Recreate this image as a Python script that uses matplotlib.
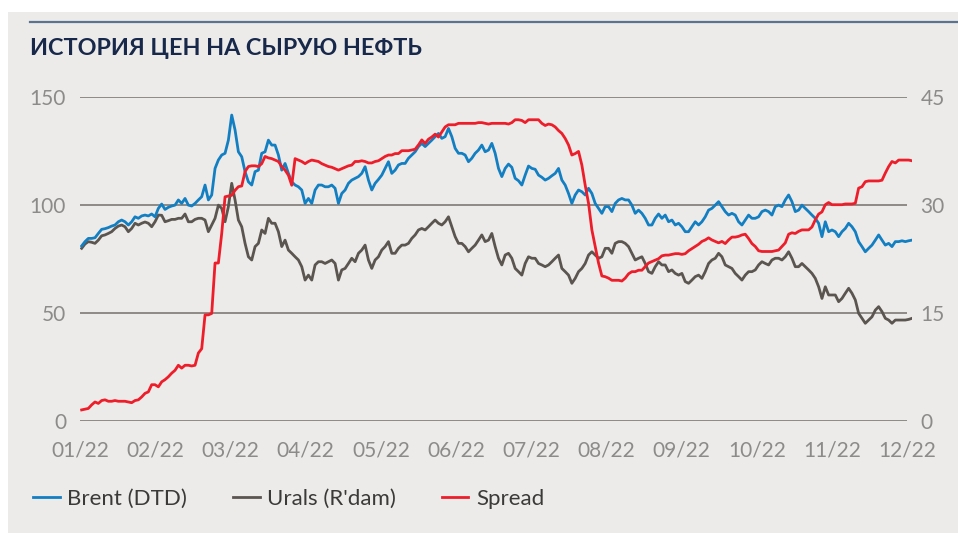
import numpy as np
import matplotlib
matplotlib.use('Agg')
import matplotlib.pyplot as plt
from matplotlib.patches import Rectangle
from matplotlib.lines import Line2D

## data (~3.4 px step)
title = 'ИСТОРИЯ ЦЕН НА СЫРУЮ НЕФТЬ'
month_labels = ['01/22', '02/22', '03/22', '04/22', '05/22', '06/22',
                '07/22', '08/22', '09/22', '10/22', '11/22', '12/22']
left_ticks = [0, 50, 100, 150]
right_ticks = [0, 15, 30, 45]
series_names = ['Brent (DTD)', "Urals (R'dam)", 'Spread']

brent = [
    80.9, 82.9, 84.4, 84.4, 84.7, 86.7, 88.6, 88.9, 89.4, 90.1,
    90.6, 92.1, 92.9, 92.1, 90.6, 92.1, 94.4, 93.7, 94.8, 95.2,
    94.8, 95.7, 94.4, 98.3, 100.3, 97.8, 98.8, 99.4, 99.8, 102.2,
    100.6, 102.9, 99.8, 99.4, 100.6, 102.2, 103.7, 109.1, 102.2, 104.5,
    116.8, 120.7, 123.0, 123.8, 129.9, 141.5, 134.6, 124.5, 122.2, 115.3,
    110.6, 109.1, 115.3, 116.0, 123.8, 124.5, 129.9, 127.6, 127.6, 123.0,
    116.0, 119.1, 114.5, 110.6, 109.1, 108.3, 106.8, 100.6, 102.9, 100.6,
    106.8, 109.1, 109.1, 108.3, 108.3, 109.1, 107.6, 100.6, 105.2, 106.8,
    109.9, 111.4,
    112.2, 113.0, 114.5, 117.6, 111.4, 106.8, 109.9, 111.7, 113.7, 116.8,
    119.9, 114.5, 116.0, 118.4, 119.1, 119.1, 121.5, 123.0, 124.5, 126.9,
    128.4, 126.9, 128.4, 129.9, 131.5, 133.0, 130.7, 131.5, 135.3, 131.5,
    126.1, 123.8, 123.8, 123.0, 119.9, 121.5, 123.8, 125.3, 127.6, 124.5,
    125.3, 128.4,
    123.8, 116.8, 113.0, 116.8, 118.8, 117.3, 112.2, 111.1, 109.1, 113.7,
    117.9, 116.8, 116.4, 113.7, 112.7, 111.4, 112.2, 113.4, 114.5, 116.8,
    111.4, 109.1, 105.2, 100.6, 104.5, 106.8, 106.0, 104.5, 107.6, 105.2,
    100.6, 98.3, 96.0, 99.1, 99.1, 96.8, 100.6, 102.2, 102.9, 102.2,
    102.2, 99.8,
    96.0, 97.5, 96.0, 93.7, 90.6, 90.6, 93.7, 95.7, 93.7, 95.2,
    92.1, 92.9, 90.6, 91.4, 89.8, 87.5, 87.5, 89.8, 92.1, 90.6,
    92.1, 94.4, 97.5, 98.3, 99.8, 101.4, 99.1, 96.8, 95.2, 96.0,
    95.2, 92.1, 90.6, 92.9, 95.2, 93.7, 93.7, 94.4, 96.8, 97.5,
    96.8, 95.2,
    99.1, 99.8, 99.1, 102.2, 104.5, 101.4, 96.8, 97.5, 99.8, 98.3,
    96.8, 95.2, 93.7, 91.4, 85.2, 92.1, 87.5, 88.3, 87.5, 85.2,
    87.5, 89.0, 91.4, 89.8, 87.5, 82.9, 80.6, 78.2, 79.8, 81.3,
    83.6, 86.0, 83.6, 81.3, 82.1, 80.6, 82.9, 82.9, 83.3, 82.9,
    83.3, 83.6,
]

urals = [
    79.8, 81.8, 82.9, 82.6, 82.1, 83.6, 85.6, 86.0, 86.7, 87.5,
    89.0, 90.1, 90.6, 89.8, 87.5, 89.0, 91.4, 90.6, 91.4, 92.0,
    91.4, 89.8, 92.1, 95.2, 95.1, 92.1, 92.6, 93.2, 93.2, 93.7,
    93.7, 95.7, 92.1, 92.1, 93.2, 93.7, 93.7, 92.9, 87.5, 90.6,
    93.7, 99.8, 98.3, 92.1, 99.1, 109.9, 102.2, 92.9, 89.8, 82.1,
    75.9, 74.4, 80.6, 82.1, 88.3, 86.7, 93.7, 91.4, 91.4, 87.5,
    80.6, 83.6, 79.0, 77.5, 75.9, 74.4, 71.3, 65.1, 67.4, 65.1,
    72.1, 73.6, 73.6, 72.8, 73.6, 74.4, 72.8, 65.1, 69.8, 70.5,
    72.8, 75.2,
    73.6, 77.5, 79.0, 81.3, 74.4, 70.5, 74.4, 75.9, 79.0, 80.6,
    82.9, 77.5, 77.5, 79.8, 81.3, 81.3, 82.1, 84.4, 86.0, 88.3,
    89.0, 88.3, 89.8, 91.4, 92.9, 91.4, 90.6, 92.1, 94.4, 89.8,
    85.2, 82.1, 82.1, 80.6, 78.2, 79.8, 81.3, 83.6, 86.0, 82.9,
    83.6, 86.7,
    80.6, 75.2, 72.1, 76.7, 77.5, 75.2, 70.5, 69.0, 67.4, 72.8,
    75.9, 75.2, 75.2, 72.8, 72.1, 71.3, 72.1, 73.6, 75.2, 76.7,
    70.5, 69.0, 67.4, 63.6, 65.9, 69.0, 70.5, 72.8, 76.7, 78.2,
    76.7, 75.2, 75.9, 79.8, 79.8, 77.5, 82.1, 82.9, 82.9, 82.1,
    80.6, 77.5,
    74.4, 75.2, 75.9, 72.8, 69.0, 68.2, 71.3, 73.6, 72.1, 72.1,
    69.0, 69.8, 68.2, 67.4, 68.2, 64.4, 63.6, 65.1, 66.7, 67.4,
    65.9, 69.0, 72.8, 74.4, 75.2, 77.5, 75.9, 72.1, 71.3, 70.5,
    68.2, 66.7, 65.1, 67.4, 69.0, 69.0, 69.8, 72.1, 73.6, 72.8,
    72.1, 74.4,
    75.2, 75.2, 74.4, 75.9, 78.2, 75.2, 71.3, 71.3, 72.8, 71.3,
    69.8, 68.2, 65.9, 62.0, 56.6, 62.0, 58.2, 58.2, 58.2, 55.1,
    56.6, 59.0, 61.3, 59.0, 55.9, 49.7, 47.4, 45.1, 46.6, 48.1,
    51.2, 52.8, 50.5, 47.4, 46.6, 45.1, 46.6, 46.6, 46.6, 46.6,
    46.9, 47.4,
]

spread = [
    1.5, 1.6, 1.7, 2.2, 2.6, 2.4, 2.8, 2.9, 2.7, 2.7,
    2.8, 2.7, 2.7, 2.7, 2.6, 2.5, 2.8, 2.9, 3.3, 3.8,
    4.0, 5.0, 5.0, 4.7, 5.4, 5.7, 6.1, 6.6, 7.0, 7.7,
    7.3, 7.7, 7.7, 7.6, 7.7, 9.4, 10.0, 14.7, 14.7, 14.9,
    21.9, 21.9, 26.0, 31.1, 31.2, 31.3, 32.0, 32.5, 32.6, 34.6,
    35.3, 35.4, 35.4, 35.3, 35.7, 36.7, 36.5, 36.4, 36.2, 36.0,
    35.3, 34.8, 34.1, 32.7, 36.4, 36.2, 36.0, 35.7, 36.0, 36.2,
    36.1, 36.0, 35.7, 35.5, 35.3, 35.2, 35.0, 34.8, 35.0, 35.2,
    35.4, 35.5,
    36.0, 36.0, 36.1, 36.0, 35.8, 35.8, 36.0, 36.1, 36.4, 36.7,
    36.9, 36.9, 37.1, 37.1, 37.5, 37.5, 37.5, 37.6, 37.7, 38.3,
    39.0, 38.5, 39.1, 39.4, 39.8, 39.4, 40.1, 40.8, 41.1, 41.1,
    41.1, 41.3, 41.3, 41.3, 41.3, 41.3, 41.3, 41.4, 41.4, 41.3,
    41.2, 41.3,
    41.3, 41.3, 41.3, 41.3, 41.2, 41.4, 41.8, 41.8, 41.7, 41.4,
    41.8, 41.8, 41.8, 41.8, 41.3, 41.0, 41.2, 41.1, 40.8, 40.3,
    39.9, 39.2, 38.3, 36.9, 37.1, 37.4, 35.5, 32.7, 30.2, 26.5,
    24.2, 21.9, 20.1, 20.0, 19.8, 19.5, 19.5, 19.5, 19.4, 19.8,
    20.4, 20.7,
    20.7, 20.9, 20.9, 21.4, 21.9, 22.1, 22.3, 22.5, 22.9, 23.0,
    23.0, 23.1, 23.2, 23.2, 23.1, 23.2, 23.6, 23.9, 24.2, 24.5,
    24.9, 25.1, 25.4, 25.1, 24.9, 24.7, 24.9, 24.6, 25.1, 25.5,
    25.5, 25.6, 25.8, 25.9, 25.3, 24.6, 24.2, 23.6, 23.5, 23.5,
    23.5, 23.5,
    23.6, 23.7, 24.2, 24.7, 25.9, 26.1, 26.0, 26.3, 26.5, 26.5,
    26.5, 26.9, 27.9, 28.7, 29.0, 30.0, 30.3, 30.0, 30.0, 30.0,
    30.0, 30.1, 30.1, 30.1, 30.2, 32.3, 32.5, 33.2, 33.3, 33.3,
    33.3, 33.3, 33.4, 34.4, 35.3, 36.0, 35.8, 36.2, 36.2, 36.2,
    36.2, 36.1,
]

## styles
BG = '#ecebe9'
GRID = '#8e8a86'
TICK = '#8d8b89'
C_BRENT, C_URALS, C_SPREAD = '#137fc3', '#5b5550', '#ee1d2a'

plt.rcParams['font.family'] = ['Lato', 'Open Sans', 'DejaVu Sans']

W, H = 958, 533
fig = plt.figure(figsize=(W / 100, H / 100), dpi=100, facecolor='white')
fig.patches.append(Rectangle((8 / W, 0), 1, (H - 12) / H, transform=fig.transFigure,
                             facecolor=BG, edgecolor='none', zorder=-10))
fig.add_artist(Line2D([30 / W, 1], [1 - 22 / H] * 2, color='#5b7391', lw=1.6))
fig.text(30 / W, 1 - 48.5 / H, title, fontsize=16.8, fontweight='bold',
         color='#17284a', va='center', ha='left')

# x in months from 01/22 (evenly spaced samples)
t = np.linspace(0.022, 11.06, len(brent))

ax = fig.add_axes([80 / W, 1 - 420.7 / H, (912 - 80) / W, (420.7 - 96.7) / H])
ax.set_facecolor('none')
ax2 = ax.twinx()

ax.hlines(left_ticks, 0, 11, color=GRID, lw=1.4, zorder=1)
l1, = ax.plot(t, brent, color=C_BRENT, lw=2.0, zorder=3)
l2, = ax.plot(t, urals, color=C_URALS, lw=2.0, zorder=2)
l3, = ax2.plot(t, spread, color=C_SPREAD, lw=2.0, zorder=3)

ax.set_xlim(0, 11.06)
ax.set_ylim(0, 150)
ax2.set_ylim(0, 45)
ax.set_xticks(range(len(month_labels)))
ax.set_xticklabels(month_labels)
ax.set_yticks(left_ticks)
ax2.set_yticks(right_ticks)

for a in (ax, ax2):
    for s in a.spines.values():
        s.set_visible(False)
    a.tick_params(length=0, labelsize=15, labelcolor=TICK)
ax.tick_params(axis='x', pad=14)
ax.tick_params(axis='y', pad=10)
ax2.tick_params(axis='y', pad=6)

fig.legend([l1, l2, l3], series_names, loc='center left',
           bbox_to_anchor=(33 / W, 1 - 499 / H), ncol=3, frameon=False,
           fontsize=16, handlelength=1.2, handletextpad=0.35, columnspacing=2.05,
           borderaxespad=0, borderpad=0, labelcolor='#3c3a38')

fig.savefig('out.png', dpi=100, facecolor=fig.get_facecolor())
